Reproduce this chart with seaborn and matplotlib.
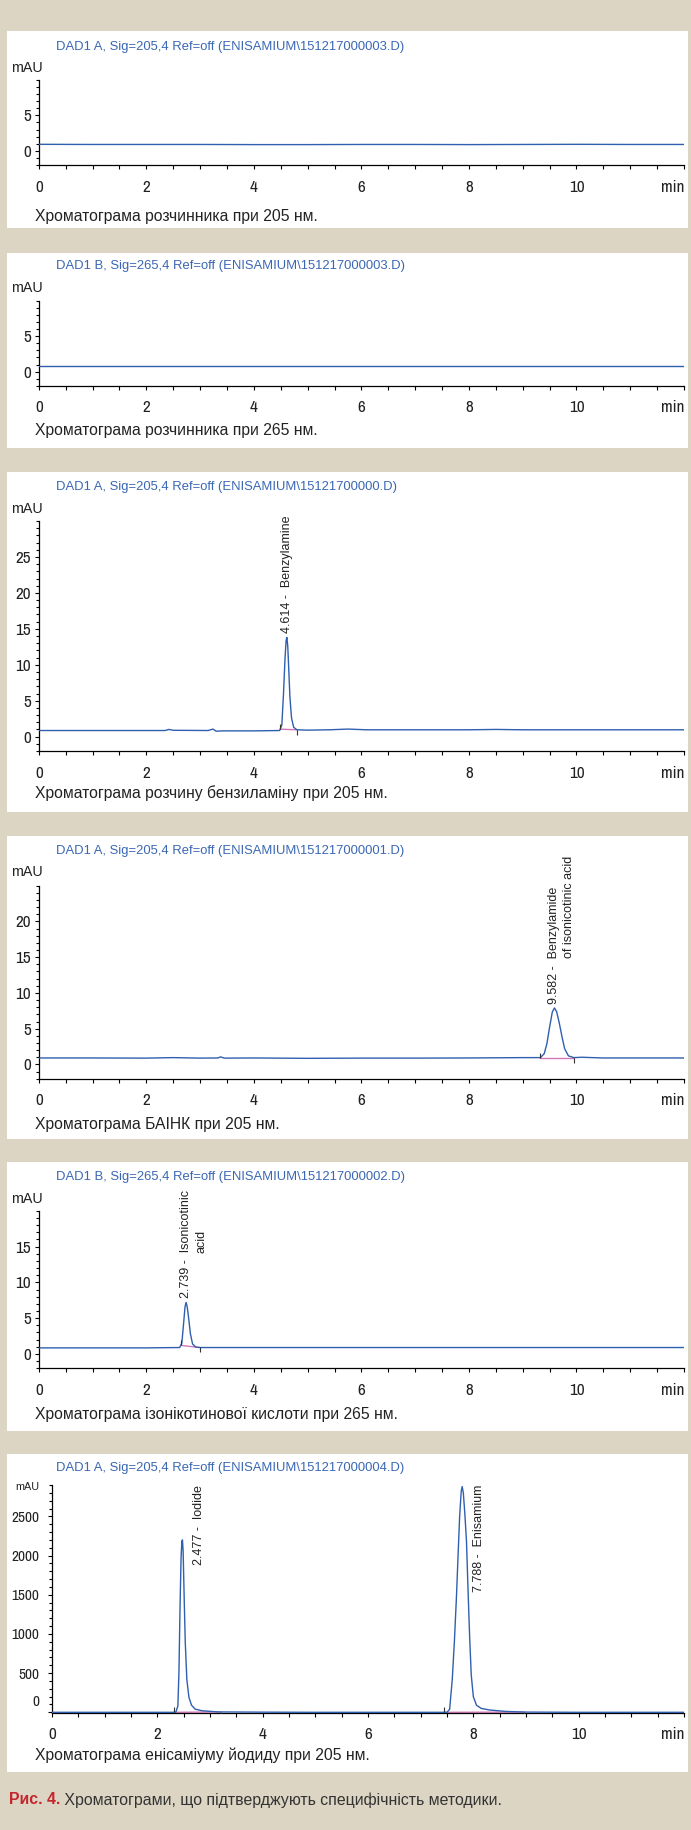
import numpy as np
import pandas as pd
import matplotlib
matplotlib.use("Agg")
import matplotlib.pyplot as plt
import matplotlib.transforms as mtransforms
from matplotlib.patches import Rectangle
from matplotlib.ticker import MultipleLocator, FixedLocator, FixedFormatter
from matplotlib import font_manager as fm
import seaborn as sns

# ---------------- data ----------------
titles = [
    r"DAD1 A, Sig=205,4 Ref=off (ENISAMIUM\151217000003.D)",
    r"DAD1 B, Sig=265,4 Ref=off (ENISAMIUM\151217000003.D)",
    r"DAD1 A, Sig=205,4 Ref=off (ENISAMIUM\15121700000.D)",
    r"DAD1 A, Sig=205,4 Ref=off (ENISAMIUM\151217000001.D)",
    r"DAD1 B, Sig=265,4 Ref=off (ENISAMIUM\151217000002.D)",
    r"DAD1 A, Sig=205,4 Ref=off (ENISAMIUM\151217000004.D)",
]
captions = [
    "Хроматограма розчинника при 205 нм.",
    "Хроматограма розчинника при 265 нм.",
    "Хроматограма розчину бензиламіну при 205 нм.",
    "Хроматограма БАІНК при 205 нм.",
    "Хроматограма ізонікотинової кислоти при 265 нм.",
    "Хроматограма енісаміуму йодиду при 205 нм.",
]
fig_caption_bold = "Рис. 4."
fig_caption_rest = " Хроматограми, що підтверджують специфічність методики."

x_ticks = [0, 2, 4, 6, 8, 10, 12]
x_tick_labels = ["0", "2", "4", "6", "8", "10", "min"]

p1_time = [0, 1, 2, 3, 4, 5, 6, 7, 8, 9, 10, 11, 12]
p1_mau = [0.92, 0.9, 0.9, 0.9, 0.88, 0.88, 0.9, 0.9, 0.88, 0.9, 0.92, 0.9, 0.9]

p2_time = [0, 1, 2, 3, 4, 5, 6, 7, 8, 9, 10, 11, 12]
p2_mau = [0.85, 0.85, 0.85, 0.85, 0.85, 0.85, 0.85, 0.85, 0.85, 0.85, 0.85, 0.85, 0.85]

p3_time = [0, 1, 2, 2.35, 2.42, 2.5, 3.15, 3.24, 3.3, 3.4, 4.0, 4.48, 4.52, 4.55,
           4.58, 4.60, 4.614, 4.63, 4.65, 4.67, 4.70, 4.74, 4.80, 5.0, 5.4, 5.75,
           6.1, 7, 8, 8.5, 9, 10, 11, 12]
p3_mau = [0.85, 0.85, 0.85, 0.85, 1.0, 0.88, 0.85, 1.05, 0.75, 0.8, 0.8, 0.85, 1.6,
          5.8, 11.0, 13.4, 13.8, 12.6, 9.2, 5.6, 2.6, 1.3, 0.95, 0.9, 0.95, 1.05,
          0.95, 0.95, 0.95, 1.0, 0.95, 0.95, 0.95, 0.95]

p4_time = [0, 1, 2, 2.5, 3.0, 3.33, 3.38, 3.45, 4, 5, 6, 7, 8, 9.0, 9.33, 9.40,
           9.45, 9.50, 9.55, 9.59, 9.63, 9.68, 9.73, 9.78, 9.85, 9.95, 10.1, 10.5,
           11, 12]
p4_mau = [0.9, 0.9, 0.88, 0.95, 0.88, 0.9, 1.05, 0.88, 0.9, 0.85, 0.88, 0.88, 0.9,
          0.95, 0.95, 1.5, 2.9, 5.2, 7.3, 7.9, 7.4, 5.8, 3.9, 2.2, 1.2, 0.95, 1.0,
          0.9, 0.9, 0.9]

p5_time = [0, 1, 2, 2.62, 2.66, 2.69, 2.72, 2.739, 2.76, 2.79, 2.82, 2.86, 2.92,
           3.0, 4, 6, 8, 10, 12]
p5_mau = [0.85, 0.85, 0.85, 0.9, 1.5, 4.0, 6.6, 7.2, 6.6, 4.8, 2.8, 1.4, 0.95,
          0.9, 0.9, 0.9, 0.9, 0.9, 0.9]

p6_time = [0, 1, 2, 2.30, 2.35, 2.39, 2.41, 2.43, 2.45, 2.465, 2.477, 2.49, 2.51,
           2.53, 2.56, 2.60, 2.65, 2.72, 2.85, 3.15, 4, 5, 6, 7, 7.44, 7.50, 7.55,
           7.60, 7.64, 7.68, 7.71, 7.74, 7.77, 7.788, 7.81, 7.84, 7.87, 7.90, 7.93,
           7.96, 8.00, 8.06, 8.15, 8.30, 8.60, 8.95, 10, 11, 12]
p6_mau = [0, 0, 0, 0, 0, 80, 500, 1300, 1950, 2180, 2200, 2050, 1450, 900, 420,
          190, 90, 40, 20, 5, 2, 0, 0, 0, 0, 0, 40, 420, 900, 1480, 2000, 2500,
          2820, 2880, 2800, 2520, 2180, 1550, 960, 480, 200, 90, 50, 30, 12, 3,
          0, 0, 0]

y_ticks = [[0, 5], [0, 5], [0, 5, 10, 15, 20, 25], [0, 5, 10, 15, 20],
           [0, 5, 10, 15], [0, 500, 1000, 1500, 2000, 2500]]
y_ranges = [(-2, 10), (-2, 10), (-2, 30), (-2, 25), (-2, 20), (-5, 2900)]
y_minor_step = [1, 1, 1, 1, 1, 100]

peak_marks = [[], [], [(4.49, 4.80)], [(9.33, 9.95)], [(2.64, 2.99)],
              [(2.31, 3.20), (7.44, 8.97)]]
peak_labels = [[], [], [("4.614", ["Benzylamine"])],
               [("9.582", ["Benzylamide", "of isonicotinic acid"])],
               [("2.739", ["Isonicotinic", "acid"])],
               [("2.477", ["Iodide"]), ("7.788", ["Enisamium"])]]

traces = [(p1_time, p1_mau), (p2_time, p2_mau), (p3_time, p3_mau),
          (p4_time, p4_mau), (p5_time, p5_mau), (p6_time, p6_mau)]

# ---------------- style / layout ----------------
BEIGE = "#ddd5c3"
BLUE = "#2f5fae"
TITLE_BLUE = "#3a67b4"
PINK = "#d277b8"
TEXT = "#222222"
RED = "#c4262e"

W, H = 691, 1830
boxes = [(31, 228), (253, 448), (472, 812), (836, 1139), (1162, 1431), (1454, 1772)]
axes_px = [(38.8, 80, 684, 165), (38.8, 301, 684, 385.7), (38.8, 521, 684, 751),
           (38.8, 885.7, 684, 1078.7), (38.8, 1210.7, 684, 1368.3),
           (52, 1485, 684, 1712.7)]
title_y = [47, 266, 487, 851, 1177, 1468]
mau_y = [68, 288, 509, 872, 1199, 1487]
caption_y = [217, 430, 793, 1124, 1414, 1755]

sns.set_theme(style="ticks")
plt.rcParams["font.family"] = ["Liberation Sans", "DejaVu Sans"]

names = {f.name for f in fm.fontManager.ttflist}
NARROW = None
for cand in ["Liberation Sans Narrow", "Arial Narrow", "Archivo Narrow",
             "PT Sans Narrow", "Roboto Condensed"]:
    if cand in names:
        NARROW = cand
        break
if NARROW:
    NFAM = [NARROW, "Liberation Sans", "DejaVu Sans"]
    XTICK_FS = [12.3] * 6
    YTICK_FS = [12.3, 12.3, 12.3, 12.3, 12.3, 11.0]
else:
    NFAM = ["Liberation Sans", "DejaVu Sans"]
    XTICK_FS = [9.5] * 6
    YTICK_FS = [9.5, 9.5, 9.5, 9.5, 9.5, 8.6]

fig = plt.figure(figsize=(W / 100, H / 100), dpi=100, facecolor=BEIGE)
renderer = fig.canvas.get_renderer()


def fx(x):
    return x / W


def fy(y):
    return 1 - y / H


for top, bot in boxes:
    fig.patches.append(Rectangle((fx(7), fy(bot)), (688 - 7) / W, (bot - top) / H,
                                 transform=fig.transFigure, facecolor="white",
                                 edgecolor="none", zorder=-10))

ident = mtransforms.IdentityTransform()
LABEL_FS = 9.0

for i in range(6):
    l, t, r, b = axes_px[i]
    ax = fig.add_axes([fx(l), fy(b), (r - l) / W, (b - t) / H])
    ax.patch.set_visible(False)
    tt, vv = traces[i]
    df = pd.DataFrame({"time": tt, "mAU": vv})
    sns.lineplot(data=df, x="time", y="mAU", ax=ax, color=BLUE, lw=1.0,
                 estimator=None, sort=False, zorder=3)
    ax.set_xlabel("")
    ax.set_ylabel("")
    ax.set_xlim(0, 12)
    ax.set_ylim(*y_ranges[i])
    for s in ("top", "right"):
        ax.spines[s].set_visible(False)
    for s in ("left", "bottom"):
        ax.spines[s].set_color("black")
        ax.spines[s].set_linewidth(0.9)
    ax.xaxis.set_major_locator(FixedLocator(x_ticks))
    ax.xaxis.set_major_formatter(FixedFormatter(x_tick_labels))
    ax.xaxis.set_minor_locator(MultipleLocator(0.5))
    ax.yaxis.set_major_locator(FixedLocator(y_ticks[i]))
    ax.yaxis.set_major_formatter(FixedFormatter([str(v) for v in y_ticks[i]]))
    ax.yaxis.set_minor_locator(MultipleLocator(y_minor_step[i]))
    ax.tick_params(axis="x", which="major", direction="out", length=3, width=0.8,
                   pad=7.5, labelsize=XTICK_FS[i], colors="black", labelcolor=TEXT)
    ax.tick_params(axis="x", which="minor", direction="out", length=2.6, width=0.8,
                   colors="black")
    ax.tick_params(axis="y", which="major", direction="out", length=3, width=0.8,
                   pad=(5.9 if i == 5 else 2.5), labelsize=YTICK_FS[i],
                   colors="black", labelcolor=TEXT)
    ax.tick_params(axis="y", which="minor", direction="out", length=2, width=0.8,
                   colors="black")
    for lab in ax.get_xticklabels() + ax.get_yticklabels():
        lab.set_family(NFAM)
    xl = ax.get_xticklabels()
    xl[-1].set_horizontalalignment("right")
    if i == 5:
        yl = ax.get_yticklabels()
        yl[0].set_transform(yl[0].get_transform() +
                            mtransforms.ScaledTranslation(0, 12 / 100, fig.dpi_scale_trans))

    # integration baseline + start/end marks
    for (s, e) in peak_marks[i]:
        bs = float(np.interp(s, tt, vv))
        be = float(np.interp(e, tt, vv))
        ax.plot([s, e], [bs, be], color=PINK, lw=1.0, zorder=2)
        ax.plot([s], [bs], marker=2, color="#333333", ms=3.5, mew=0.8, zorder=4)
        ax.plot([e], [be], marker=3, color="#333333", ms=3.5, mew=0.8, zorder=4)

    # peak labels
    for rt, lines in peak_labels[i]:
        x = float(rt)
        top_val = max(v for tq, v in zip(tt, vv) if abs(tq - x) < 0.15)
        X, Y = ax.transData.transform((x, top_val))
        if i == 5:
            Ytop = ax.transData.transform((x, y_ranges[i][1]))[1]
            ax.text(X + 17, Ytop, f"{rt} -  {lines[0]}", transform=ident,
                    rotation=90, ha="center", va="top", fontsize=LABEL_FS,
                    color=TEXT)
        else:
            y0 = Y + 4
            ax.text(X, y0, f"{rt} -  {lines[0]}", transform=ident, rotation=90,
                    ha="center", va="bottom", fontsize=LABEL_FS, color=TEXT)
            if len(lines) > 1:
                tmp = ax.text(0, 0, f"{rt} -  ", transform=ident, rotation=90,
                              fontsize=LABEL_FS)
                plen = tmp.get_window_extent(renderer).height
                tmp.remove()
                for k, ln in enumerate(lines[1:], start=1):
                    ax.text(X + 15 * k, y0 + plen, ln, transform=ident,
                            rotation=90, ha="center", va="bottom",
                            fontsize=LABEL_FS, color=TEXT)

    # texts around the panel
    fig.text(fx(56), fy(title_y[i]), titles[i], color=TITLE_BLUE, fontsize=9.4,
             ha="left", va="center")
    if i == 5:
        fig.text(fx(39.5), fy(mau_y[i]), "mAU", color=TEXT, fontsize=7.8,
                 ha="right", va="center")
    else:
        fig.text(fx(27), fy(mau_y[i]), "mAU", color=TEXT, fontsize=10.3,
                 ha="center", va="center")
    fig.text(fx(35), fy(caption_y[i]), captions[i], color=TEXT, fontsize=11.3,
             ha="left", va="center")

# figure caption
t1 = fig.text(fx(9), fy(1800), fig_caption_bold, color=RED, fontsize=11.4,
              fontweight="bold", ha="left", va="center")
w1 = t1.get_window_extent(renderer).width
fig.text(fx(9 + w1), fy(1800), fig_caption_rest, color="#333333", fontsize=11.4,
         ha="left", va="center")

fig.savefig("out.png", dpi=100, facecolor=BEIGE)
